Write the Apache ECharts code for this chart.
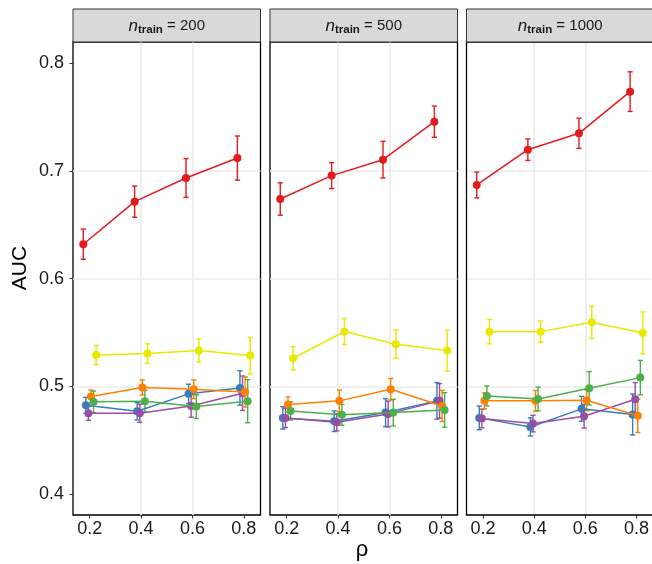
<!DOCTYPE html>
<html><head><meta charset="utf-8">
<script src="https://cdn.jsdelivr.net/npm/echarts@6/dist/echarts.min.js"></script>
<style>html,body{margin:0;padding:0;background:#fff;overflow:hidden}#c{width:652px;height:564px}</style>
</head><body><div id="c"></div>
<script>
// ---- data ----
const rho = [0.2, 0.4, 0.6, 0.8];
const trainSizes = ['200', '500', '1000'];
const xTicks = [0.2, 0.4, 0.6, 0.8];
const yTicks = [0.4, 0.5, 0.6, 0.7, 0.8];
const methods = ['red', 'blue', 'purple', 'orange', 'green', 'yellow'];
const colors = ['#E41A1C', '#377EB8', '#984EA3', '#FF7F00', '#4DAF4A', '#E8E800'];
const dodge = [-0.025, -0.015, -0.005, 0.005, 0.015, 0.025];

// means per panel (n=200, 500, 1000)
const redMean    = [[0.632, 0.6715, 0.6935, 0.712], [0.674, 0.6957, 0.7105, 0.7458], [0.687, 0.7198, 0.735, 0.7737]];
const redErr     = [[0.014, 0.0145, 0.018, 0.0205], [0.015, 0.012, 0.017, 0.0145], [0.012, 0.010, 0.014, 0.0184]];
const blueMean   = [[0.4824, 0.4769, 0.4930, 0.4985], [0.4707, 0.4676, 0.4756, 0.4865], [0.4707, 0.4623, 0.4791, 0.4738]];
const blueErr    = [[0.0074, 0.008, 0.009, 0.016], [0.0104, 0.0096, 0.013, 0.017], [0.011, 0.0084, 0.0116, 0.019]];
const purpleMean = [[0.4750, 0.4750, 0.4818, 0.4936], [0.4707, 0.4667, 0.4744, 0.4865], [0.4701, 0.4654, 0.4722, 0.4880]];
const purpleErr  = [[0.0065, 0.0085, 0.0105, 0.016], [0.009, 0.008, 0.012, 0.016], [0.0087, 0.0077, 0.011, 0.0155]];
const orangeMean = [[0.4905, 0.4989, 0.4973, 0.4948], [0.4831, 0.4865, 0.4973, 0.4818], [0.4865, 0.4865, 0.4871, 0.4726]];
const orangeErr  = [[0.006, 0.007, 0.0087, 0.014], [0.007, 0.010, 0.010, 0.0145], [0.0074, 0.0097, 0.0097, 0.0155]];
const greenMean  = [[0.4856, 0.4862, 0.4812, 0.4862], [0.4772, 0.4735, 0.4756, 0.4781], [0.4911, 0.4883, 0.4982, 0.5081]];
const greenErr   = [[0.010, 0.010, 0.011, 0.020], [0.0085, 0.0097, 0.0124, 0.016], [0.0093, 0.011, 0.0155, 0.016]];
const yellowMean = [[0.529, 0.5304, 0.5332, 0.5286], [0.5261, 0.5509, 0.5391, 0.5332], [0.5508, 0.5508, 0.5595, 0.5496]];
const yellowErr  = [[0.009, 0.009, 0.0107, 0.017], [0.0107, 0.012, 0.013, 0.019], [0.0113, 0.0099, 0.0149, 0.0195]];

const means = [redMean, blueMean, purpleMean, orangeMean, greenMean, yellowMean];
const errs = [redErr, blueErr, purpleErr, orangeErr, greenErr, yellowErr];

// ---- layout ----
const panelLefts = [73, 270, 466.5];
const panelW = 187.5, panelTop = 42, panelH = 473;
const xMin = 0.135, xMax = 0.865, yMin = 0.3805, yMax = 0.8198;
// last panel is cut by the right edge of the canvas; keep the same x scale
const lastW = 652 - panelLefts[2];
const lastXMax = xMin + (xMax - xMin) * lastW / panelW;
const font = 'Liberation Sans, Arial, Helvetica, sans-serif';

const grids = [], xAxes = [], yAxes = [], series = [], graphics = [];

function renderErr(params, api) {
  const x = api.value(0), lo = api.value(1), hi = api.value(2);
  const a = api.coord([x, lo]), b = api.coord([x, hi]);
  const w = 2.6;
  const style = { stroke: api.visual('color'), lineWidth: 1.4 };
  return { type: 'group', children: [
    { type: 'line', shape: { x1: a[0], y1: a[1], x2: b[0], y2: b[1] }, style },
    { type: 'line', shape: { x1: a[0] - w, y1: a[1], x2: a[0] + w, y2: a[1] }, style },
    { type: 'line', shape: { x1: b[0] - w, y1: b[1], x2: b[0] + w, y2: b[1] }, style }
  ]};
}

trainSizes.forEach((n, p) => {
  const last = p === 2;
  const w = last ? lastW : panelW;
  grids.push({ left: panelLefts[p], top: panelTop, width: w, height: panelH,
    show: true, borderColor: '#000', borderWidth: last ? 0 : 1.3, backgroundColor: '#fff', containLabel: false });
  xAxes.push({ type: 'value', gridIndex: p, min: xMin, max: last ? lastXMax : xMax,
    axisLine: { show: false },
    axisTick: { show: true, customValues: xTicks, length: 3.5, lineStyle: { color: '#333', width: 1.1 } },
    axisLabel: { customValues: xTicks, fontSize: 18, color: '#1a1a1a', margin: 5, fontFamily: font,
      formatter: v => v.toFixed(1) },
    splitLine: { show: true, showMinLine: false, showMaxLine: false, lineStyle: { color: '#ebebeb', width: 1.7 } }
  });
  yAxes.push({ type: 'value', gridIndex: p, min: yMin, max: yMax,
    axisLine: { show: false },
    axisTick: { show: p === 0, customValues: yTicks, length: 3.5, lineStyle: { color: '#333', width: 1.1 } },
    axisLabel: { show: p === 0, customValues: yTicks, fontSize: 18, color: '#1a1a1a', margin: 9, fontFamily: font,
      formatter: v => v.toFixed(1) },
    splitLine: { show: true, showMinLine: false, showMaxLine: false, lineStyle: { color: '#ebebeb', width: 1.7 } }
  });
  methods.forEach((m, k) => {
    const errData = rho.map((r, i) => [r + dodge[k], means[k][p][i] - errs[k][p][i], means[k][p][i] + errs[k][p][i]]);
    const lineData = rho.map((r, i) => [r + dodge[k], means[k][p][i]]);
    series.push({ type: 'custom', name: m + ' err', xAxisIndex: p, yAxisIndex: p, z: 2 + k * 0.01,
      renderItem: renderErr, itemStyle: { color: colors[k] }, encode: { x: 0, y: [1, 2] },
      data: errData, silent: true, animation: false, clip: true });
    series.push({ type: 'line', name: m, xAxisIndex: p, yAxisIndex: p, z: 3 + k * 0.01,
      data: lineData, symbol: 'circle', symbolSize: 8, showSymbol: true,
      lineStyle: { color: colors[k], width: 1.5 }, itemStyle: { color: colors[k] },
      silent: true, animation: false, clip: true });
  });
  if (last) {
    // three-sided frame: the right side lies off the canvas
    graphics.push({ type: 'polyline', z: 9, silent: true,
      shape: { points: [[panelLefts[p] + 200, panelTop], [panelLefts[p], panelTop],
                        [panelLefts[p], panelTop + panelH], [panelLefts[p] + 200, panelTop + panelH]] },
      style: { stroke: '#000', lineWidth: 1.3, fill: null } });
  }
  // strip
  graphics.push({ type: 'rect', x: panelLefts[p], y: 9, z: 10, silent: true,
    shape: { x: 0, y: 0, width: last ? 200 : panelW, height: 33 },
    style: { fill: '#d9d9d9', stroke: '#333', lineWidth: 1 } });
  graphics.push({ type: 'text', x: panelLefts[p] + panelW / 2, y: 26, z: 11,
    style: { text: '{n|n}{s|train}{r| = ' + n + '}', align: 'center', verticalAlign: 'middle',
      rich: {
        n: { fontSize: 17, fontStyle: 'italic', fontFamily: font, fill: '#1a1a1a', lineHeight: 22 },
        s: { fontSize: 11.5, fontWeight: 'bold', fontFamily: font, fill: '#1a1a1a', lineHeight: 22, padding: [7, 0, 0, 0] },
        r: { fontSize: 15, fontFamily: font, fill: '#1a1a1a', lineHeight: 22 }
      } } });
});

graphics.push({ type: 'text', x: 20, y: 268, rotation: Math.PI / 2, z: 11,
  style: { text: 'AUC', fontSize: 21, fontFamily: font, fill: '#000', align: 'center', verticalAlign: 'middle' } });
graphics.push({ type: 'text', x: 362, y: 550, z: 11,
  style: { text: 'ρ', fontSize: 22, fontFamily: font, fill: '#000', align: 'center', verticalAlign: 'middle' } });

const chart = echarts.init(document.getElementById('c'), null, { renderer: 'canvas' });
chart.setOption({ animation: false, backgroundColor: '#fff',
  grid: grids, xAxis: xAxes, yAxis: yAxes, series: series, graphic: graphics });
</script></body></html>
